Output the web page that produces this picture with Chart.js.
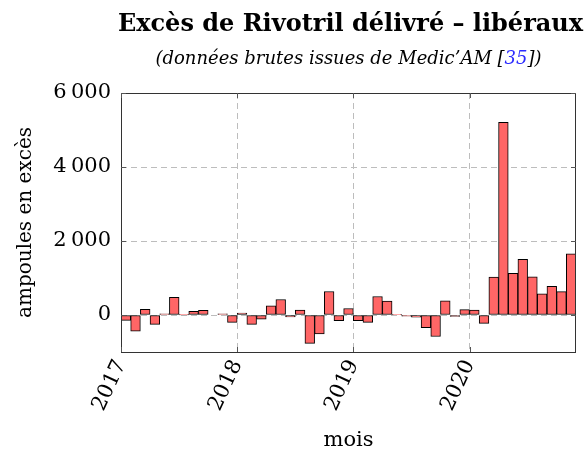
<!DOCTYPE html>
<html><head><meta charset="utf-8">
<script src="https://cdn.jsdelivr.net/npm/chart.js@4"></script>
<style>html,body{margin:0;padding:0;background:#fff}#wrap{width:587px;height:453px;position:relative}</style>
</head><body><div id="wrap"><canvas id="c"></canvas></div>
<script>
// ---- data ----
const months = [
 '2017-01','2017-02','2017-03','2017-04','2017-05','2017-06','2017-07','2017-08','2017-09','2017-10','2017-11','2017-12',
 '2018-01','2018-02','2018-03','2018-04','2018-05','2018-06','2018-07','2018-08','2018-09','2018-10','2018-11','2018-12',
 '2019-01','2019-02','2019-03','2019-04','2019-05','2019-06','2019-07','2019-08','2019-09','2019-10','2019-11','2019-12',
 '2020-01','2020-02','2020-03','2020-04','2020-05','2020-06','2020-07','2020-08','2020-09','2020-10','2020-11'
];
const excess = [
 -145, -435, 155, -255, 35, 480, 5, 100, 125, 0, 35, -200,
 55, -255, -110, 245, 420, -55, 135, -765, -510, 635, -155, 175,
 -155, -200, 500, 375, 20, -30, -60, -345, -580, 385, -40, 145,
 130, -225, 1025, 5205, 1125, 1505, 1035, 575, 775, 630, 1650
];
const yearTicks = [2017, 2018, 2019, 2020];
const yTicks = [0, 2000, 4000, 6000];
const yMin = -1000, yMax = 6000;
const firstYear = 2017;
const titleText = 'Excès de Rivotril délivré – libéraux';
const subBefore = '(données brutes issues de Medic\u2019AM [';
const subCite = '35';
const subAfter = '])';
const xTitle = 'mois';
const yTitle = 'ampoules en excès';

// ---- helpers ----
function monthIndex(s){ const [y,m] = s.split('-').map(Number); return (y-firstYear)*12 + (m-1); }
function fmt(v){ const a=Math.abs(v); let s = String(a); if(a>=1000){ s = s.slice(0,s.length-3)+'\u2009'+s.slice(-3);} return (v<0?'\u2212':'')+s; }

const SERIF = '"DejaVu Serif", "Liberation Serif", serif';

const decor = {
  id:'decor',
  afterDraw(chart){
    const {ctx, chartArea:a, scales} = chart;
    ctx.save();
    // frame
    ctx.strokeStyle = '#333'; ctx.lineWidth = 1;
    ctx.strokeRect(Math.round(a.left)+0.5, Math.round(a.top)+0.5, Math.round(a.right-a.left)-1, Math.round(a.bottom-a.top));
    // inner tick marks
    ctx.strokeStyle = '#555';
    ctx.beginPath();
    yTicks.forEach(v=>{ const y = Math.round(scales.y.getPixelForValue(v))+0.5;
      ctx.moveTo(a.left, y); ctx.lineTo(a.left+5, y); ctx.moveTo(a.right-5, y); ctx.lineTo(a.right, y); });
    yearTicks.forEach(yr=>{ const x = Math.round(scales.x.getPixelForValue((yr-firstYear)*12))+0.5;
      ctx.moveTo(x, a.bottom); ctx.lineTo(x, a.bottom-5); ctx.moveTo(x, a.top); ctx.lineTo(x, a.top+5); });
    ctx.stroke();
    // title
    const cx = (a.left + a.right)/2;
    ctx.fillStyle = '#000';
    ctx.textAlign = 'center'; ctx.textBaseline = 'alphabetic';
    ctx.font = 'bold 24px ' + SERIF;
    ctx.fillText(titleText, cx + 2, 31);
    // subtitle with coloured citation
    ctx.font = 'italic 18px ' + SERIF;
    const w1 = ctx.measureText(subBefore).width, w2 = ctx.measureText(subCite).width, w3 = ctx.measureText(subAfter).width;
    let x = cx - (w1+w2+w3)/2;
    ctx.textAlign = 'left';
    ctx.fillStyle = '#000'; ctx.fillText(subBefore, x, 64); x += w1;
    ctx.fillStyle = '#2b2bff'; ctx.fillText(subCite, x, 64); x += w2;
    ctx.fillStyle = '#000'; ctx.fillText(subAfter, x, 64);
    ctx.restore();
  }
};

new Chart(document.getElementById('c'), {
  type:'bar',
  data:{
    datasets:[{
      data: months.map((m,i)=>({x: monthIndex(m)+0.5, y: excess[i]})),
      backgroundColor:'#ff6666',
      borderColor:'#000',
      borderWidth:1,
      borderSkipped:false,
      barPercentage:1,
      categoryPercentage:1
    }]
  },
  options:{
    responsive:true, maintainAspectRatio:false, animation:false,
    layout:{padding:{top:93, right:11, left:0, bottom:0}},
    plugins:{legend:{display:false}, title:{display:false}, tooltip:{enabled:false}},
    scales:{
      x:{
        type:'linear', offset:false, min:0, max:months.length,
        afterBuildTicks(s){ s.ticks = yearTicks.map(yr=>({value:(yr-firstYear)*12})); },
        afterFit(s){ s.height = 101; },
        grid:{color:'#bdbdbd', drawTicks:false, offset:false},
        border:{display:false, dash:[6,4]},
        ticks:{padding:4, maxRotation:65, minRotation:65, color:'#000', font:{family:SERIF, size:21},
          callback:v=> String(firstYear + v/12)},
        title:{display:true, text:xTitle, color:'#000', font:{family:SERIF, size:21}, padding:{top:0,bottom:0}}
      },
      y:{
        min:yMin, max:yMax,
        afterBuildTicks(s){ s.ticks = yTicks.map(v=>({value:v})); },
        afterFit(s){ s.width = 121; },
        grid:{color:'#bdbdbd', drawTicks:false},
        border:{display:false, dash:[6,4]},
        ticks:{padding:10, color:'#000', font:{family:SERIF, size:21}, callback:v=>fmt(v)},
        title:{display:true, text:yTitle, color:'#000', font:{family:SERIF, size:20}, padding:{top:14,bottom:0}}
      }
    }
  },
  plugins:[decor]
});
</script></body></html>
